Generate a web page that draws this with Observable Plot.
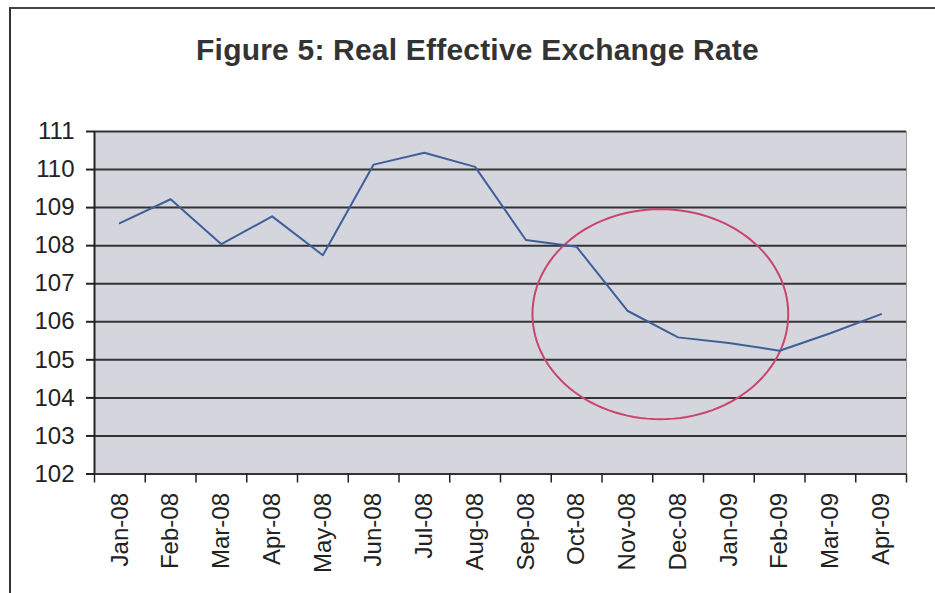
<!DOCTYPE html>
<html>
<head>
<meta charset="utf-8">
<script src="https://cdn.jsdelivr.net/npm/d3@7"></script>
<script src="https://cdn.jsdelivr.net/npm/@observablehq/plot@0.6"></script>
<style>
  html, body { margin: 0; padding: 0; background: #fff; }
  #wrap { position: relative; width: 935px; height: 593px; overflow: hidden; font-family: "Liberation Sans", Arial, sans-serif; }
  #border { position: absolute; left: 9px; top: 7px; width: 1000px; height: 700px; border-left: 2px solid #333; border-top: 2px solid #444; }
  #title { position: absolute; left: 0; top: 0; width: 955px; height: 110px; text-align: center; font-weight: bold; font-size: 30px; color: #333; line-height: 100px; letter-spacing: 0.2px; }
  #chart { position: absolute; left: 0; top: 110px; }
</style>
</head>
<body>
<div id="wrap">
  <div id="border"></div>
  <div id="title">Figure 5: Real Effective Exchange Rate</div>
  <div id="chart"></div>
</div>
<script>
// Data
const months = ["Jan-08","Feb-08","Mar-08","Apr-08","May-08","Jun-08","Jul-08","Aug-08",
                "Sep-08","Oct-08","Nov-08","Dec-08","Jan-09","Feb-09","Mar-09","Apr-09"];
const reer = [108.59, 109.22, 108.04, 108.77, 107.75, 110.13, 110.44, 110.07,
              108.15, 107.97, 106.29, 105.59, 105.44, 105.24, 105.70, 106.20];
const yTicks = [102, 103, 104, 105, 106, 107, 108, 109, 110, 111];

// Highlight ellipse annotation (centre and radii in data units: month index, index value)
const ellipseCentre = {x: 10.65, y: 106.2};
const ellipseRadii = {x: 2.52, y: 2.76};

const data = months.map((m, i) => ({i, month: m, value: reer[i]}));
const bounds = d3.range(-0.5, months.length, 1);
const ellipse = d3.range(0, 361, 3).map(a => {
  const t = a * Math.PI / 180;
  return {x: ellipseCentre.x + ellipseRadii.x * Math.cos(t), y: ellipseCentre.y + ellipseRadii.y * Math.sin(t)};
});

const chart = Plot.plot({
  width: 935,
  height: 483,
  marginLeft: 94,
  marginRight: 29,
  marginTop: 21,
  marginBottom: 119.5,
  style: {fontFamily: "Liberation Sans, Arial, sans-serif", color: "#222", background: "transparent"},
  x: {type: "linear", domain: [-0.5, months.length - 0.5]},
  y: {domain: [102, 111]},
  marks: [
    Plot.frame({fill: "#d5d5de", stroke: null}),
    Plot.ruleX([months.length - 0.5], {stroke: "#999", strokeWidth: 1}),
    Plot.ruleY(yTicks, {stroke: "#333", strokeWidth: 2}),
    Plot.ruleX([-0.5], {stroke: "#222", strokeWidth: 2}),
    Plot.axisY({ticks: yTicks, tickSize: 8, tickPadding: 12, fontSize: 24, tickFormat: d => d, stroke: "#222", strokeWidth: 2}),
    Plot.axisX({ticks: bounds, tickSize: 9, tickFormat: () => "", stroke: "#222", strokeWidth: 1.5}),
    Plot.axisX({ticks: d3.range(months.length), tickSize: 0, tickPadding: 19, tickRotate: -90, fontSize: 24, tickFormat: i => months[i]}),
    Plot.line(ellipse, {x: "x", y: "y", stroke: "#c8456c", strokeWidth: 2, curve: "linear"}),
    Plot.line(data, {x: "i", y: "value", stroke: "#3e5f99", strokeWidth: 2})
  ]
});
document.getElementById("chart").appendChild(chart);
</script>
</body>
</html>
